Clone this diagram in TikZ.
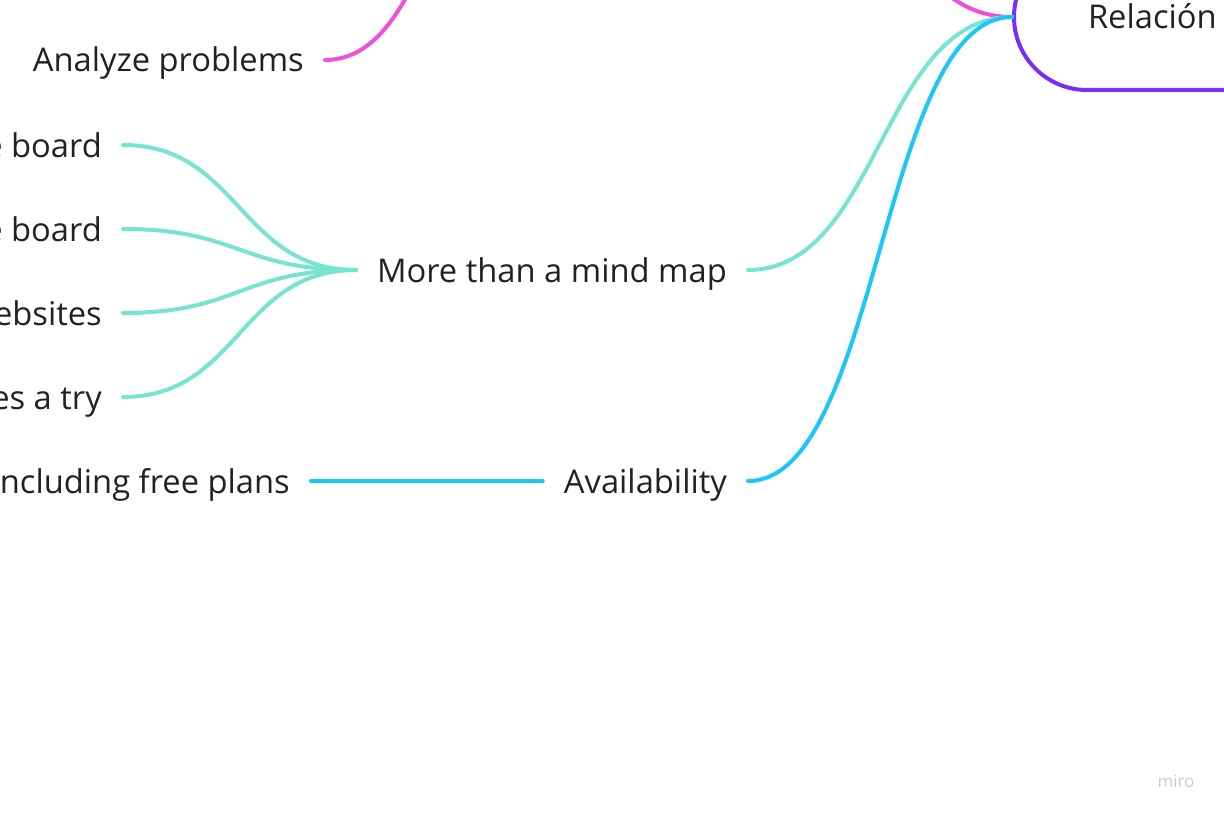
\documentclass[tikz,border=0pt]{standalone}
\usepackage{fontspec}
\setmainfont{Open Sans}
\definecolor{txt}{HTML}{222222}
\definecolor{pinkc}{HTML}{F04FDA}
\definecolor{tealc}{HTML}{76E4D0}
\definecolor{bluec}{HTML}{1CC6F5}
\definecolor{purplec}{HTML}{7B2FF5}
\definecolor{wm}{HTML}{CACBD1}
\begin{document}
\begin{tikzpicture}[x=1pt,y=-1pt,
  lbl/.style={inner ysep=0pt, inner xsep=21pt, text height=24pt, text depth=0pt,
     text=txt, font=\fontsize{32.7}{38}\selectfont},
  conn/.style={line width=4pt, line cap=round},
  rootbox/.style={draw=purplec, line width=4pt, rounded corners=73pt,
     minimum height=146pt, text width=260pt, inner xsep=74pt, inner ysep=0pt,
     text height=24pt, text depth=0pt, text=txt, font=\fontsize{32.7}{38}\selectfont}]
\useasboundingbox (0,0) rectangle (1224,816);
\clip (0,0) rectangle (1224,816);
% root
\node[rootbox, anchor=west] (root) at (1012,17) {Relación};
% off-canvas parent of "Analyze problems"
\coordinate (pl) at (553,-204);
\coordinate (pr) at (748,-204);
% level 1
\node[lbl, anchor=east] (mm) at (748,270) {More than a mind map};
\node[lbl, anchor=east] (av) at (748,481) {Availability};
% level 2
\node[lbl, anchor=east] (ap) at (325,60) {Analyze problems};
\node[lbl, anchor=east] (b1) at (123,145) {e board};
\node[lbl, anchor=east] (b2) at (123,229) {e board};
\node[lbl, anchor=east] (b3) at (123,313) {ebsites};
\node[lbl, anchor=east] (b4) at (123,397) {es a try};
\node[lbl, anchor=east] (fp) at (311,481) {ncluding free plans};
% connectors
\draw[conn, pinkc] (ap.east) .. controls +(114,0) and +(-114,0) .. (pl);
\draw[conn, pinkc] (pr) .. controls +(131,0) and +(-131,0) .. (root.west);
\draw[conn, tealc] (mm.east) .. controls +(131,0) and +(-131,0) .. (root.west);
\draw[conn, bluec] (av.east) .. controls +(131,0) and +(-131,0) .. (root.west);
\draw[conn, tealc] (b1.east) .. controls +(116,0) and +(-116,0) .. (mm.west);
\draw[conn, tealc] (b2.east) .. controls +(116,0) and +(-116,0) .. (mm.west);
\draw[conn, tealc] (b3.east) .. controls +(116,0) and +(-116,0) .. (mm.west);
\draw[conn, tealc] (b4.east) .. controls +(116,0) and +(-116,0) .. (mm.west);
\draw[conn, bluec] (fp.east) -- (av.west);
% watermark
\node[text=wm, font=\fontsize{17}{20}\selectfont, inner sep=0pt] (miro) at (1176,781) {miro};
\end{tikzpicture}
\end{document}
